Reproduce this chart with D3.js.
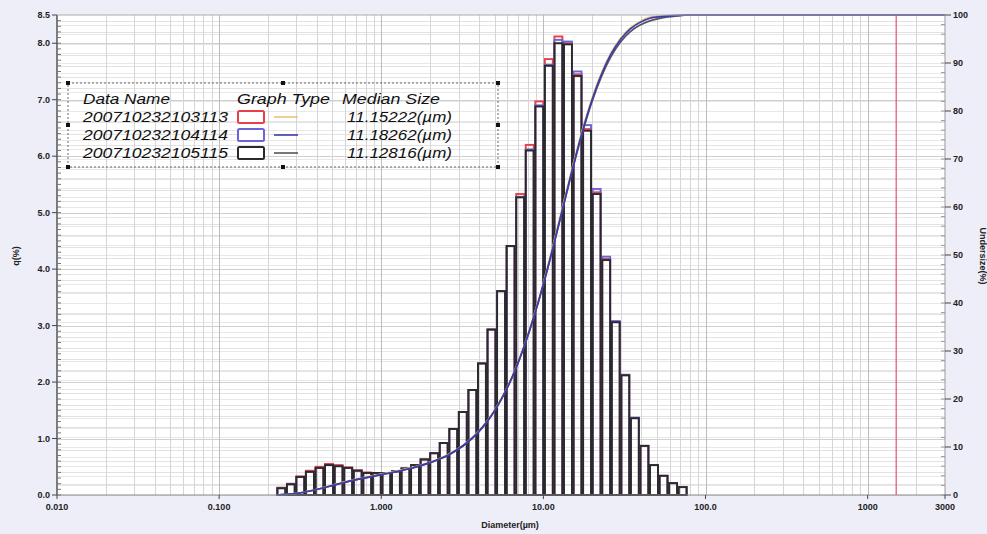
<!DOCTYPE html>
<html>
<head>
<meta charset="utf-8">
<script src="https://d3js.org/d3.v7.min.js"></script>
<style>
  body { margin: 0; background: #eeeef9; }
  svg { display: block; }
  text { font-family: "Liberation Sans", Arial, sans-serif; }
</style>
</head>
<body>
<div id="chart"></div>
<script>
// bin edges (um) of the size channels that carry data
var binEdges = [0.226, 0.259, 0.296, 0.339, 0.389, 0.445, 0.510, 0.584, 0.669,
  0.766, 0.877, 1.005, 1.151, 1.318, 1.510, 1.729, 1.981, 2.269, 2.599,
  2.976, 3.409, 3.905, 4.472, 5.122, 5.867, 6.720, 7.697, 8.816, 10.097,
  11.565, 13.246, 15.172, 17.377, 19.904, 22.797, 26.111, 29.907, 34.255, 39.234,
  44.938, 51.471, 58.953, 67.523, 77.339];

// q(%) per channel, one array per measurement
var q1 = [0.13, 0.20, 0.33, 0.43, 0.50, 0.55, 0.53, 0.49, 0.44, 0.40, 0.39, 0.39, 0.42, 0.47,
  0.53, 0.63, 0.74, 0.92, 1.17, 1.47, 1.86, 2.33, 2.93, 3.61, 4.41, 5.33, 6.20, 6.97, 7.72,
  8.12, 8.00, 7.45, 6.48, 5.36, 4.18, 3.06, 2.12, 1.36, 0.87, 0.53, 0.34, 0.21, 0.14];
var q2 = [0.12, 0.19, 0.32, 0.41, 0.48, 0.53, 0.51, 0.48, 0.43, 0.39, 0.39, 0.39, 0.42, 0.47,
  0.53, 0.63, 0.74, 0.92, 1.17, 1.47, 1.86, 2.33, 2.93, 3.61, 4.41, 5.28, 6.12, 6.90, 7.62,
  8.06, 8.03, 7.50, 6.55, 5.42, 4.22, 3.08, 2.13, 1.37, 0.87, 0.53, 0.34, 0.21, 0.14];
var q3 = [0.12, 0.19, 0.32, 0.41, 0.48, 0.53, 0.51, 0.48, 0.43, 0.39, 0.39, 0.39, 0.42, 0.47,
  0.53, 0.63, 0.74, 0.92, 1.17, 1.47, 1.86, 2.33, 2.93, 3.61, 4.41, 5.27, 6.10, 6.88, 7.60,
  8.00, 7.98, 7.42, 6.45, 5.33, 4.16, 3.06, 2.12, 1.36, 0.87, 0.53, 0.34, 0.21, 0.14];

// undersize(%) at each bin edge
var u1 = [0, 0.13, 0.33, 0.66, 1.09, 1.59, 2.14, 2.67, 3.16, 3.60, 4.00, 4.39, 4.78, 5.20, 5.67, 6.20,
  6.83, 7.57, 8.49, 9.66, 11.13, 12.99, 15.32, 18.25, 21.86, 26.27, 31.60, 37.80, 44.77, 52.49,
  60.61, 68.61, 76.06, 82.54, 87.90, 92.08, 95.14, 97.26, 98.62, 99.49, 99.7, 99.85, 99.95, 100];
var u2 = [0, 0.12, 0.31, 0.63, 1.04, 1.52, 2.05, 2.56, 3.04, 3.47, 3.86, 4.25, 4.64, 5.06, 5.53, 6.06,
  6.69, 7.43, 8.35, 9.52, 10.99, 12.85, 15.18, 18.11, 21.72, 26.13, 31.41, 37.53, 44.43, 52.05,
  60.11, 68.14, 75.64, 82.19, 87.61, 91.83, 94.91, 97.04, 98.41, 99.28, 99.6, 99.8, 99.92, 100];
var u3 = [0, 0.12, 0.31, 0.63, 1.04, 1.52, 2.05, 2.56, 3.04, 3.47, 3.86, 4.25, 4.64, 5.06, 5.53, 6.06,
  6.69, 7.43, 8.35, 9.52, 10.99, 12.85, 15.18, 18.11, 21.72, 26.13, 31.40, 37.50, 44.38, 51.98,
  59.98, 67.96, 75.38, 81.83, 87.16, 91.32, 94.38, 96.50, 97.86, 98.73, 99.26, 99.60, 99.81, 100];

var dataNames = ["200710232103113", "200710232104114", "200710232105115"];
var medianSizes = ["11.15222(\u00b5m)", "11.18262(\u00b5m)", "11.12816(\u00b5m)"];
var barColors = ["#e8404a", "#6a64d8", "#2a2a2a"];
var lineColors = ["#e9c27a", "#3c3cae", "#555560"];

var xTickValues = [0.01, 0.1, 1, 10, 100, 1000, 3000];
var xTickLabels = ["0.010", "0.100", "1.000", "10.00", "100.0", "1000", "3000"];
var yLeftTicks = [0, 1, 2, 3, 4, 5, 6, 7, 8, 8.5];
var yRightTicks = [0, 10, 20, 30, 40, 50, 60, 70, 80, 90, 100];
var markerSize = 1500;

var W = 987, H = 534;
var pL = 57, pR = 945, pT = 15, pB = 495;

var svg = d3.select("#chart").append("svg")
  .attr("width", W)
  .attr("height", H);

svg.append("rect").attr("width", W).attr("height", H).attr("fill", "#eeeef9");

var x = d3.scaleLog().domain([0.01, 3000]).range([pL, pR]);
var yL = d3.scaleLinear().domain([0, 8.5]).range([pB, pT]);
var yR = d3.scaleLinear().domain([0, 100]).range([pB, pT]);

svg.append("rect")
  .attr("x", pL).attr("y", pT)
  .attr("width", pR - pL).attr("height", pB - pT)
  .attr("fill", "#ffffff");

// grid
var grid = svg.append("g");
grid.selectAll(".hl").data(d3.range(0, 8.5, 0.2))
  .enter().append("line")
  .attr("x1", pL).attr("x2", pR)
  .attr("y1", d => Math.round(yL(d)) + 0.5).attr("y2", d => Math.round(yL(d)) + 0.5)
  .attr("stroke", "#e2e2e2");
grid.selectAll(".hr").data(d3.range(2, 100, 2))
  .enter().append("line")
  .attr("x1", pL).attr("x2", pR)
  .attr("y1", d => Math.round(yR(d)) + 0.5).attr("y2", d => Math.round(yR(d)) + 0.5)
  .attr("stroke", "#e8e8e8");
grid.selectAll(".hm").data(d3.range(1, 9))
  .enter().append("line")
  .attr("x1", pL).attr("x2", pR)
  .attr("y1", d => Math.round(yL(d)) + 0.5).attr("y2", d => Math.round(yL(d)) + 0.5)
  .attr("stroke", "#cfcfcf");

var logTicks = x.ticks(60).filter(d => d > 0.01 && d < 3000);
grid.selectAll(".v").data(logTicks)
  .enter().append("line")
  .attr("x1", d => Math.round(x(d)) + 0.5).attr("x2", d => Math.round(x(d)) + 0.5)
  .attr("y1", pT).attr("y2", pB)
  .attr("stroke", d => Math.abs(Math.log10(d) % 1) < 1e-6 ? "#bcbcbc" : "#d6d6d6");

// marker line
svg.append("line")
  .attr("x1", x(markerSize)).attr("x2", x(markerSize))
  .attr("y1", pT).attr("y2", pB)
  .attr("stroke", "#e8506e").attr("stroke-width", 1.2);

// bars
var seriesQ = [q1, q2, q3];
seriesQ.forEach(function(q, s) {
  svg.append("g").selectAll("rect").data(q)
    .enter().append("rect")
    .attr("x", (d, i) => x(binEdges[i]) + 0.8)
    .attr("width", (d, i) => x(binEdges[i + 1]) - x(binEdges[i]) - 1.6)
    .attr("y", d => yL(d))
    .attr("height", d => pB - yL(d))
    .attr("fill", "none")
    .attr("stroke", barColors[s])
    .attr("stroke-width", 1.9);
});

// undersize curves
var line = d3.line()
  .x(d => x(d[0])).y(d => yR(d[1]))
  .curve(d3.curveMonotoneX);
[u1, u3, u2].forEach(function(u, k) {
  var s = [0, 2, 1][k];
  var pts = binEdges.map((e, i) => [e, u[i]]);
  pts.push([x.domain()[1], u[u.length - 1]]);
  svg.append("path")
    .attr("d", line(pts))
    .attr("fill", "none")
    .attr("stroke", lineColors[s])
    .attr("stroke-width", 1.7);
});

// axes
svg.append("line").attr("x1", pL).attr("x2", pL).attr("y1", pT).attr("y2", pB)
  .attr("stroke", "#555").attr("stroke-width", 1.5);
svg.append("line").attr("x1", pR).attr("x2", pR).attr("y1", pT).attr("y2", pB)
  .attr("stroke", "#999");
svg.append("line").attr("x1", pL).attr("x2", pR).attr("y1", pB).attr("y2", pB)
  .attr("stroke", "#888");
svg.append("line").attr("x1", pL).attr("x2", pR).attr("y1", pT).attr("y2", pT)
  .attr("stroke", "#aaa");

// minor ticks
svg.append("g").selectAll("line").data(d3.range(0, 8.5, 0.1))
  .enter().append("line")
  .attr("x1", pL).attr("x2", pL + 4)
  .attr("y1", d => yL(d)).attr("y2", d => yL(d))
  .attr("stroke", "#777");
svg.append("g").selectAll("line").data(d3.range(0, 100, 2))
  .enter().append("line")
  .attr("x1", pR - 4).attr("x2", pR)
  .attr("y1", d => yR(d)).attr("y2", d => yR(d))
  .attr("stroke", "#999");

var lab = svg.append("g").attr("font-size", 9).attr("font-weight", "bold").attr("fill", "#222");
lab.selectAll(".yl").data(yLeftTicks)
  .enter().append("text")
  .attr("x", 50).attr("y", d => yL(d) + 3)
  .attr("text-anchor", "end")
  .text(d => d.toFixed(1));
svg.append("g").selectAll("line").data(yLeftTicks)
  .enter().append("line")
  .attr("x1", pL - 5).attr("x2", pL)
  .attr("y1", d => yL(d)).attr("y2", d => yL(d))
  .attr("stroke", "#444");
lab.selectAll(".yr").data(yRightTicks)
  .enter().append("text")
  .attr("x", 953).attr("y", d => yR(d) + 3)
  .text(d => d);
svg.append("g").selectAll("line").data(yRightTicks)
  .enter().append("line")
  .attr("x1", pR).attr("x2", pR + 6)
  .attr("y1", d => yR(d)).attr("y2", d => yR(d))
  .attr("stroke", "#444");
lab.selectAll(".xl").data(xTickValues)
  .enter().append("text")
  .attr("x", d => x(d)).attr("y", 510)
  .attr("text-anchor", "middle")
  .text((d, i) => xTickLabels[i]);
svg.append("g").selectAll("line").data(xTickValues)
  .enter().append("line")
  .attr("x1", d => x(d)).attr("x2", d => x(d))
  .attr("y1", pB).attr("y2", pB + 4)
  .attr("stroke", "#444");

// axis titles
lab.append("text").attr("transform", "translate(19,256) rotate(-90)")
  .attr("text-anchor", "middle").text("q(%)");
lab.append("text").attr("transform", "translate(980,256) rotate(90)")
  .attr("text-anchor", "middle").text("Undersize(%)");
lab.append("text").attr("x", 510).attr("y", 528)
  .attr("text-anchor", "middle").text("Diameter(\u00b5m)");

// legend
var lg = svg.append("g");
lg.append("rect").attr("x", 68).attr("y", 83).attr("width", 430).attr("height", 84)
  .attr("fill", "none").attr("stroke", "#666").attr("stroke-dasharray", "2,2");
var handles = [[68, 83], [283, 83], [498, 83], [68, 125], [498, 125], [68, 167], [283, 167], [498, 167]];
lg.selectAll(".h").data(handles).enter().append("rect")
  .attr("x", d => d[0] - 2).attr("y", d => d[1] - 2)
  .attr("width", 4).attr("height", 4).attr("fill", "#111");
var lt = lg.append("g").attr("font-size", 14).attr("font-style", "italic").attr("fill", "#111");
function fitText(t, len) {
  return t.attr("textLength", len).attr("lengthAdjust", "spacingAndGlyphs");
}
fitText(lt.append("text").attr("x", 83).attr("y", 104).text("Data Name"), 87);
fitText(lt.append("text").attr("x", 237).attr("y", 104).text("Graph Type"), 93);
fitText(lt.append("text").attr("x", 342).attr("y", 104).text("Median Size"), 98);
dataNames.forEach(function(n, i) {
  var yy = 122 + i * 18;
  fitText(lt.append("text").attr("x", 83).attr("y", yy).text(n), 145);
  lg.append("rect").attr("x", 238).attr("y", yy - 11).attr("width", 26).attr("height", 12)
    .attr("rx", 1.5)
    .attr("fill", "#fff").attr("stroke", barColors[i]).attr("stroke-width", 2);
  lg.append("line").attr("x1", 274).attr("x2", 298).attr("y1", yy - 5).attr("y2", yy - 5)
    .attr("stroke", lineColors[i]).attr("stroke-width", 1.6);
  fitText(lt.append("text").attr("x", 347).attr("y", yy).text(medianSizes[i]), 105);
});
</script>
</body>
</html>
